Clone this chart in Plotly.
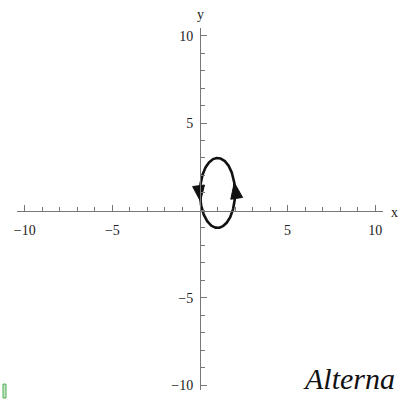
import numpy as np
import plotly.graph_objects as go

# Closed orbit: x = cx + rx*cos(t), y = cy + ry*sin(t), traversed counter-clockwise
center_x, center_y = 1.0, 1.0
radius_x, radius_y = 1.0, 2.0
# parameter values where the direction arrows point
arrow_params = [3.39, 0.30]

x_tick_labels = [-10, -5, 5, 10]
y_tick_labels = [-10, -5, 5, 10]
minor_ticks = list(range(-10, 11))

W, H = 398, 401
PX_PER_UNIT = 17.6

t = np.linspace(0, 2 * np.pi, 400)
xs = center_x + radius_x * np.cos(t)
ys = center_y + radius_y * np.sin(t)

fig = go.Figure()
fig.add_trace(go.Scatter(x=xs, y=ys, mode="lines",
                         line=dict(color="#111111", width=2.6),
                         hoverinfo="skip", showlegend=False))

# filled arrowheads along the orbit, aligned with the tangent
head_len = 16 / PX_PER_UNIT
head_half = 6.0 / PX_PER_UNIT
for ta in arrow_params:
    tip_x = center_x + radius_x * np.cos(ta)
    tip_y = center_y + radius_y * np.sin(ta)
    dx, dy = -radius_x * np.sin(ta), radius_y * np.cos(ta)
    n = np.hypot(dx, dy)
    ux, uy = dx / n, dy / n
    bx, by = tip_x - head_len * ux, tip_y - head_len * uy
    px, py = -uy, ux
    fig.add_trace(go.Scatter(
        x=[tip_x, bx + head_half * px, bx - head_half * px, tip_x],
        y=[tip_y, by + head_half * py, by - head_half * py, tip_y],
        mode="lines", fill="toself", fillcolor="#111111",
        line=dict(color="#111111", width=1),
        hoverinfo="skip", showlegend=False))

tick_font = dict(family="Liberation Serif", size=14, color="#222222")
axis_common = dict(showgrid=False, zeroline=False, showline=True,
                   linecolor="#777777", linewidth=1,
                   ticks="inside", ticklen=6, tickcolor="#777777",
                   tickfont=tick_font, tickmode="array", anchor="free",
                   minor=dict(tickmode="array", tickvals=minor_ticks,
                              ticks="inside", ticklen=3.5,
                              tickcolor="#777777"))

fig.update_layout(
    width=W, height=H,
    margin=dict(l=0, r=0, t=0, b=0),
    paper_bgcolor="white", plot_bgcolor="white",
    xaxis=dict(axis_common, domain=[14 / W, 383 / W], range=[-10.45, 10.45],
               tickvals=x_tick_labels, position=(H - 212.5) / H,
               ticklabelstandoff=6),
    yaxis=dict(axis_common, domain=[(H - 393) / H, (H - 28) / H],
               range=[-10.28, 10.45],
               tickvals=y_tick_labels, position=198.5 / W,
               ticklabelstandoff=4),
    font=dict(family="Liberation Serif"),
)

fig.add_annotation(text="x", xref="paper", yref="paper",
                   x=394 / W, y=(H - 214) / H, showarrow=False,
                   xanchor="center", yanchor="middle",
                   font=dict(family="Liberation Serif", size=14, color="#222222"))
fig.add_annotation(text="y", xref="paper", yref="paper",
                   x=199 / W, y=(H - 15) / H, showarrow=False,
                   xanchor="center", yanchor="middle",
                   font=dict(family="Liberation Serif", size=14, color="#222222"))

# signature in the lower right corner
fig.add_annotation(text="Alterna", xref="paper", yref="paper",
                   x=300 / W, y=(H - 381) / H, showarrow=False,
                   xanchor="left", yanchor="middle",
                   font=dict(family="Liberation Serif", size=30,
                             color="#111111", style="italic"))

# small green bracket mark at the lower left edge
fig.add_shape(type="rect", xref="paper", yref="paper",
              x0=0, x1=3 / W, y0=0, y1=(H - 387) / H,
              line=dict(color="#4caf50", width=1), fillcolor="#c8e6c9")

fig.write_html("out.html")
